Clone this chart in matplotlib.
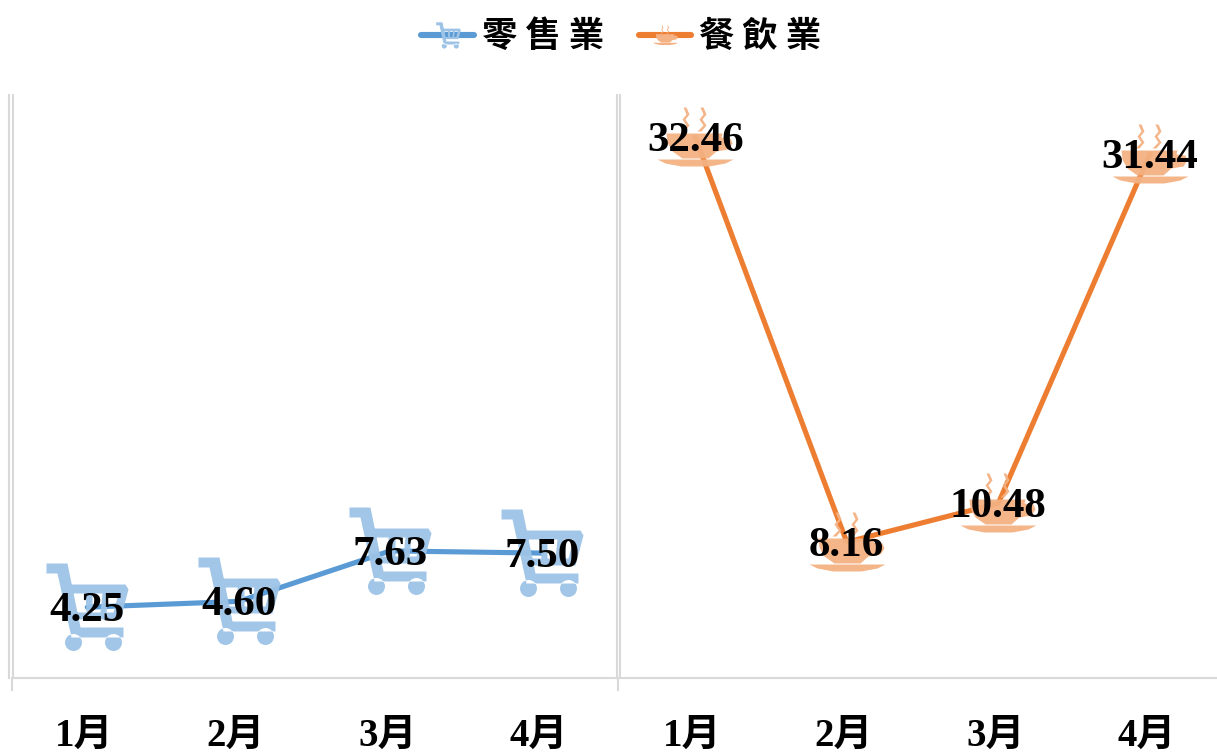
"""Monthly retail and food service figures, one panel per sector."""

import matplotlib
matplotlib.use('Agg')
import matplotlib.pyplot as plt
from matplotlib.path import Path
from matplotlib.transforms import ScaledTranslation

months = ['1月', '2月', '3月', '4月']
retail = [4.25, 4.60, 7.63, 7.50]
food = [32.46, 8.16, 10.48, 31.44]
retail_name = '零 售 業'
food_name = '餐 飲 業'

BLUE = '#5B9BD5'
ORANGE = '#ED7D31'
LIGHT_BLUE = '#9DC3E6'
LIGHT_ORANGE = '#F4B183'
GRID = '#D9D9D9'
W, H = 1217, 753
SERIF = ['Liberation Serif', 'Noto Sans CJK TC']


def poly(points):
    points = list(points) + [points[0]]
    codes = [Path.MOVETO] + [Path.LINETO] * (len(points) - 2) + [Path.CLOSEPOLY]
    return Path(points, codes)


def circle(x, y, r):
    unit = Path.unit_circle()
    return Path(unit.vertices * r + (x, y), unit.codes)


def cart_path():
    # y points up; holes in the basket run the opposite way round
    parts = [
        poly([(-41, 44), (-20, 44), (-7, -20), (36, -20), (36, -30), (-16, -30), (-30, 34), (-41, 34)]),
        poly([(-26, 23), (38, 23), (41, 18), (33, -12), (-12, -12)]),
        poly([(-15, 14), (-11, -5), (-1, -5), (-2, 14)]),
        poly([(5, 14), (5, -5), (13, -5), (15, 14)]),
        poly([(21, 14), (19, -5), (26, -5), (31, 14)]),
        circle(-14, -35, 8.5),
        circle(26, -35, 8.5),
    ]
    return Path.make_compound_path(*parts)


def cup_path():
    # saucer, bowl with handle, and two wisps of steam
    parts = [
        poly([(-38, -22), (38, -22), (30, -26), (14, -29), (-14, -29), (-30, -26)]),
        poly([(-29, 4), (27, 4), (26, 0), (35, -1), (37, -6), (33, -12), (21, -14),
              (13, -21), (-13, -21), (-23, -14), (-28, -5)]),
    ]
    for dx in (-12, 5):
        parts.append(poly([(dx - 3, 6), (dx + 1, 6), (dx + 6, 12), (dx + 2, 18), (dx + 6, 23),
                           (dx + 3, 30), (dx, 30), (dx + 3, 23), (dx - 1, 18), (dx + 3, 12)]))
    return Path.make_compound_path(*parts)


def marker_size(path):
    # matplotlib scales a path marker to its largest extent
    return 2 * abs(path.vertices).max() * 72 / 100


def panel(left, right):
    ax = fig.add_axes([left / W, 1 - 678 / H, (right - left) / W, (678 - 95) / H])
    ax.set_xlim(-0.5, (right - left) / 151.5 - 0.5)
    ax.set_ylim(0, 35)
    ax.patch.set_alpha(0)
    for name in ('top', 'right', 'left'):
        ax.spines[name].set_visible(False)
    ax.spines['bottom'].set_color(GRID)
    ax.spines['bottom'].set_linewidth(1.5)
    ax.set_yticks([])
    ax.set_xticks(range(4))
    ax.set_xticklabels(months, family=SERIF, fontweight='bold', fontsize=28)
    ax.tick_params(axis='x', length=0, pad=29)
    shift = ScaledTranslation(-3 / 100, 0, fig.dpi_scale_trans)
    for label in ax.get_xticklabels():
        label.set_transform(label.get_transform() + shift)
    return ax


def draw_series(ax, values, color, marker_path, marker_color):
    xs = range(len(values))
    ax.plot(xs, values, color=color, lw=3.7, solid_capstyle='round', zorder=2)
    ax.plot(xs, values, marker=marker_path, ms=marker_size(marker_path), mfc=marker_color,
            mec='none', ls='none', alpha=0.95, zorder=3, clip_on=False)
    for x, v in zip(xs, values):
        ax.annotate('%.2f' % v, (x, v), xytext=(0, -4), textcoords='offset pixels',
                    ha='center', va='center', family='Liberation Serif', fontweight='bold',
                    fontsize=31, color='black', zorder=4, annotation_clip=False)


def legend_entry(x0, x1, color, marker_path, marker_color, scale, label, label_x):
    y = 1 - 34.5 / H
    fig.add_artist(plt.Line2D([x0 / W, x1 / W], [y, y], color=color, lw=4.4,
                              solid_capstyle='round'))
    fig.add_artist(plt.Line2D([(x0 + x1) / 2 / W], [y], marker=marker_path,
                              ms=marker_size(marker_path) * scale, mfc=marker_color,
                              mec='none', ls='none'))
    fig.text(label_x / W, 1 - 36.5 / H, label, ha='left', va='center', fontsize=25.5,
             fontweight='bold', family=['Noto Sans CJK TC'], color='black')


fig = plt.figure(figsize=(W / 100, H / 100), dpi=100)

CART = cart_path()
CUP = cup_path()

ax_retail = panel(11.5, 618.3)
ax_food = panel(619.5, 1217)
draw_series(ax_retail, retail, BLUE, CART, LIGHT_BLUE)
draw_series(ax_food, food, ORANGE, CUP, LIGHT_ORANGE)

# paired rules along each value axis, and the short ticks under them
for px in (9.3, 12.7, 616.7, 620):
    fig.add_artist(plt.Line2D([px / W, px / W], [1 - 677.5 / H, 1 - 95 / H], color=GRID, lw=1.5))
for px in (11.5, 618.3):
    fig.add_artist(plt.Line2D([px / W, px / W], [1 - 678 / H, 1 - 690 / H], color=GRID, lw=1.5))

legend_entry(421, 474, BLUE, CART, LIGHT_BLUE, 0.3, retail_name, 482)
legend_entry(639, 691, ORANGE, CUP, LIGHT_ORANGE, 0.33, food_name, 699)

fig.savefig('out.png', dpi=100)
